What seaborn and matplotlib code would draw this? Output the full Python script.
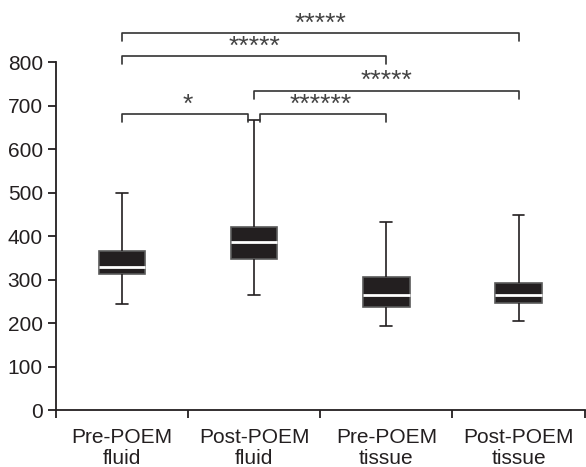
import matplotlib
matplotlib.use("Agg")
import matplotlib.pyplot as plt
import seaborn as sns
import pandas as pd

groups = ["Pre-POEM\nfluid", "Post-POEM\nfluid", "Pre-POEM\ntissue", "Post-POEM\ntissue"]
# five-number summaries: min, q1, median, q3, max
pre_fluid = [244, 313, 329, 366, 500]
post_fluid = [264, 347, 386, 421, 668]
pre_tissue = [193, 238, 265, 305, 432]
post_tissue = [204, 246, 265, 291, 448]

# significance brackets: (left group, right group, height, stars)
pairs = [(0, 1), (1, 2), (1, 3), (0, 2), (0, 3)]
heights = [680, 680, 734, 814, 867]
stars = ["*", "******", "*****", "*****", "*****"]

rows = []
for g, vals in zip(groups, [pre_fluid, post_fluid, pre_tissue, post_tissue]):
    for v in vals:
        rows.append({"group": g, "value": v})
df = pd.DataFrame(rows)

sns.set_style("ticks")
plt.rcParams['font.family'] = ['Liberation Sans', 'DejaVu Sans']

dark = "#231f20"
fig = plt.figure(figsize=(5.86, 4.67), dpi=100)
ax = fig.add_axes([0.0956, 0.122, 0.902, 0.745])

sns.boxplot(data=df, x="group", y="value", order=groups, whis=(0, 100),
            width=0.35, color=dark, linecolor=dark, saturation=1, linewidth=1.2,
            boxprops=dict(edgecolor="#5a5a5a"),
            medianprops=dict(color="white", linewidth=2),
            ax=ax)

# shrink the whisker caps
for ln in ax.lines:
    xs, ys = ln.get_xdata(), ln.get_ydata()
    if len(xs) == 2 and ys[0] == ys[1] and abs(xs[1] - xs[0]) < 0.3:
        c = (xs[0] + xs[1]) / 2
        ln.set_xdata([c - 0.045, c + 0.045])

ax.set_ylim(0, 800)
ax.set_xlim(-0.5, 3.5)
ax.set_yticks(range(0, 801, 100))
ax.set_xticks([-0.5, 0.5, 1.5, 2.5, 3.5])
ax.set_xticklabels([])
ax.set_xticks(range(4), minor=True)
ax.set_xticklabels(groups, minor=True, fontsize=15, color=dark, linespacing=1.1)
ax.tick_params(axis="x", which="minor", length=0, pad=13)
ax.tick_params(axis="both", which="major", length=6, width=1.3, color=dark,
               labelsize=15, labelcolor=dark)
ax.set_xlabel("")
ax.set_ylabel("")
sns.despine(ax=ax)
for s in ["left", "bottom"]:
    ax.spines[s].set_linewidth(1.3)
    ax.spines[s].set_color(dark)

for (a, b), h, st in zip(pairs, heights, stars):
    x0, x1 = a, b
    if (a, b) == (0, 1):
        x1 = b - 0.045
    if (a, b) == (1, 2):
        x0 = a + 0.045
    ax.plot([x0, x0, x1, x1], [h - 18, h, h, h - 18], color="#333333",
            lw=1.2, clip_on=False)
    ax.text((a + b) / 2, h + 6, st, ha="center", va="baseline", fontsize=19,
            color="#444444", clip_on=False)

fig.savefig("out.png", dpi=100)
